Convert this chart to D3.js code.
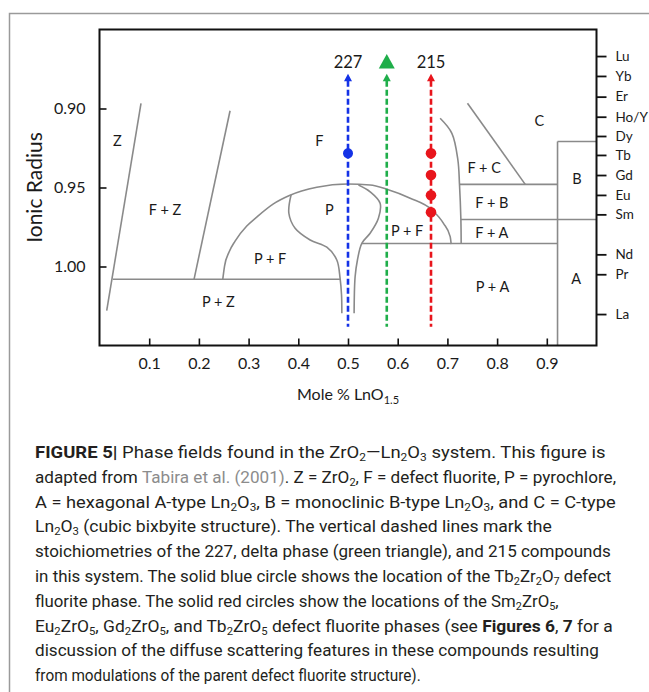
<!DOCTYPE html>
<html><head><meta charset="utf-8">
<script src="https://cdn.jsdelivr.net/npm/d3@7"></script>
<style>html,body{margin:0;padding:0;background:#fff;}svg{display:block;}</style>
</head><body>
<script>
// ---------- data ----------
const xTickValues = [0.1,0.2,0.3,0.4,0.5,0.6,0.7,0.8,0.9];
const yTickValues = [0.90,0.95,1.00];
const rightLabels = ["Lu","Yb","Er","Ho/Y","Dy","Tb","Gd","Eu","Sm","Nd","Pr","La"];
const rightValues = [0.8668,0.8794,0.8925,0.9052,0.9174,0.9294,0.9421,0.9547,0.9670,0.9923,1.0049,1.0301];

const boundaryZF = [[0.0835,0.8967],[0.0145,1.0280]];
const boundaryFZ = [[0.2627,0.9014],[0.1902,1.0081]];
const boundaryPZ = [[0.0266,1.0081],[0.4841,1.0081]];
const dome = [[0.2480,1.0081],[0.2516,0.9997],[0.2607,0.9908],[0.2728,0.9839],[0.2963,0.9744],[0.3165,0.9687],[0.3499,0.9604],[0.3821,0.9551],[0.4372,0.9499],[0.4992,0.9478],[0.5445,0.9484],[0.5782,0.9511],[0.6251,0.9568],[0.6688,0.9642],[0.6921,0.9727],[0.7056,0.9811],[0.7076,0.9858]];
const pLeft = [[0.3855,0.9547],[0.3810,0.9663],[0.3936,0.9758],[0.4238,0.9832],[0.4574,0.9878],[0.4775,0.9959],[0.4841,1.0075],[0.4870,1.0180],[0.4876,1.0296]];
const pRight = [[0.5210,0.9484],[0.5445,0.9527],[0.5646,0.9600],[0.5612,0.9695],[0.5445,0.9790],[0.5278,0.9853],[0.5190,0.9959],[0.5143,1.0065],[0.5123,1.0296]];
const innerPF = [[0.5278,0.9854],[0.9216,0.9854]];
const fBoundary = [[0.6854,0.9062],[0.7090,0.9157],[0.7211,0.9326],[0.7243,0.9478],[0.7271,0.9699],[0.7277,0.9858]];
const lineFCFB = [[0.7243,0.9480],[0.9216,0.9480]];
const lineFBFA = [[0.7271,0.9703],[1.0,0.9703]];
const lineBleft = [[0.9216,0.9209],[0.9216,1.05]];
const lineBtop = [[0.9216,0.9209],[1.0,0.9209]];
const lineC = [[0.7404,0.8967],[0.8566,0.9480]];
const straightLines = [boundaryZF,boundaryFZ,boundaryPZ,innerPF,lineFCFB,lineFBFA,lineBleft,lineBtop,lineC];
const curvedLines = [pLeft,pRight,fBoundary];

const phaseLabels = ["Z","F + Z","P + Z","P + F","P","F","P + F","F + C","F + B","F + A","C","B","A","P + A"];
const phaseX = [0.0358,0.1319,0.2392,0.3432,0.4626,0.4425,0.6190,0.7740,0.7895,0.7895,0.8848,0.9606,0.9592,0.7907];
const phaseY = [0.9204,0.9642,1.0223,0.9948,0.9639,0.9204,0.9777,0.9378,0.9596,0.9786,0.9079,0.9442,1.0075,1.0128];

const stoichNames = ["227","delta","215"];
const stoichX = [0.5,0.578,0.667];
const stoichColors = ["#1432e6","#1fae4a","#e8151c"];
const dashTop = 0.8825, dashBottom = 1.0381;
const blueCircleY = [0.9284];
const redCircleY = [0.9284,0.9421,0.9549,0.9657];

// ---------- layout ----------
const W = 649, H = 692;
const svg = d3.select("body").append("svg").attr("width",W).attr("height",H);
const x = d3.scaleLinear().domain([0,1]).range([99.5,596.5]);
const y = d3.scaleLinear().domain([0.85,1.05]).range([29.5,345.5]);
const font = "Lato, 'Open Sans', sans-serif";

// card border
svg.append("path").attr("d","M9.5,692 L9.5,13.5 L649,13.5").attr("fill","none").attr("stroke","#9a9a9a").attr("stroke-width",1.5);

// phase boundaries
const gB = svg.append("g").attr("fill","none").attr("stroke","#8a8a8a").attr("stroke-width",1.6);
const lineS = d3.line().x(d=>x(d[0])).y(d=>y(d[1]));
const lineC2 = d3.line().x(d=>x(d[0])).y(d=>y(d[1])).curve(d3.curveCatmullRom.alpha(0.5));
const lineM = d3.line().x(d=>x(d[0])).y(d=>y(d[1])).curve(d3.curveMonotoneX);
gB.selectAll("path.s").data(straightLines).join("path").attr("class","s").attr("d",lineS);
gB.selectAll("path.c").data(curvedLines).join("path").attr("class","c").attr("d",lineC2);
gB.append("path").datum(dome).attr("d",lineM);

// axes
const gx = svg.append("g").attr("transform",`translate(0,${y(1.05)})`)
  .call(d3.axisBottom(x).tickValues(xTickValues).tickSize(-7).tickPadding(12).tickFormat(d3.format(".1f")));
const gy = svg.append("g").attr("transform",`translate(${x(0)},0)`)
  .call(d3.axisLeft(y).tickValues(yTickValues).tickSize(-7).tickPadding(14).tickFormat(d3.format(".2f")));
const gr = svg.append("g").attr("transform",`translate(${x(1)},0)`)
  .call(d3.axisRight(y).tickValues(rightValues).tickSize(10).tickPadding(9).tickFormat((d,i)=>rightLabels[i]));
[gx,gy,gr].forEach(g=>{
  g.select(".domain").remove();
  g.selectAll(".tick line").attr("stroke","#111").attr("stroke-width",1.6);
  g.selectAll("text").attr("font-family",font).attr("fill","#1a1a1a");
});
gx.selectAll("text").attr("font-size",16);
gy.selectAll("text").attr("font-size",16);
gr.selectAll("text").attr("font-size",13.5);
gr.selectAll(".tick line").attr("stroke-width",1.8);

// frame
svg.append("rect").attr("x",x(0)).attr("y",y(0.85)).attr("width",x(1)-x(0)).attr("height",y(1.05)-y(0.85))
  .attr("fill","none").attr("stroke","#111").attr("stroke-width",2);

// phase labels
svg.append("g").selectAll("text").data(phaseLabels).join("text")
  .attr("x",(d,i)=>x(phaseX[i])).attr("y",(d,i)=>y(phaseY[i])).attr("dy","0.36em")
  .attr("text-anchor","middle").attr("font-family",font).attr("font-size",14.5).attr("fill","#1a1a1a").text(d=>d);

// dashed stoichiometry lines
stoichX.forEach((sx,i)=>{
  svg.append("line").attr("x1",x(sx)).attr("x2",x(sx)).attr("y1",y(dashTop)).attr("y2",y(dashBottom))
    .attr("stroke",stoichColors[i]).attr("stroke-width",2.6).attr("stroke-dasharray","6,3");
  const tx = x(sx), ty = y(dashTop)-7;
  svg.append("path").attr("d",`M${tx},${ty} L${tx-4},${ty+7.5} L${tx+4},${ty+7.5} Z`).attr("fill",stoichColors[i]);
});
// top labels
svg.append("text").attr("x",x(stoichX[0])).attr("y",67.5).attr("text-anchor","middle")
  .attr("font-family",font).attr("font-size",16.5).attr("fill","#1a1a1a").text(stoichNames[0]);
svg.append("text").attr("x",x(stoichX[2])).attr("y",67.5).attr("text-anchor","middle")
  .attr("font-family",font).attr("font-size",16.5).attr("fill","#1a1a1a").text(stoichNames[2]);
{
  const tx = x(stoichX[1]);
  svg.append("path").attr("d",`M${tx},${54} L${tx-8},${68.5} L${tx+8},${68.5} Z`).attr("fill",stoichColors[1]);
}

// circles
svg.append("g").selectAll("circle").data(blueCircleY).join("circle")
  .attr("cx",x(stoichX[0])).attr("cy",d=>y(d)).attr("r",5).attr("fill",stoichColors[0]);
svg.append("g").selectAll("circle").data(redCircleY).join("circle")
  .attr("cx",x(stoichX[2])).attr("cy",d=>y(d)).attr("r",5.3).attr("fill",stoichColors[2]);

// axis titles
const xt = svg.append("text").attr("x",(x(0)+x(1))/2).attr("y",400).attr("text-anchor","middle")
  .attr("font-family",font).attr("font-size",16).attr("fill","#1a1a1a");
xt.append("tspan").text("Mole % LnO");
xt.append("tspan").attr("font-size",11).attr("dy",4).text("1.5");
svg.append("text").attr("transform",`translate(42,${(y(0.85)+y(1.05))/2}) rotate(-90)`).attr("text-anchor","middle")
  .attr("font-family",font).attr("font-size",21).attr("fill","#1a1a1a").text("Ionic Radius");

// caption
const capFont = "'Liberation Sans Narrow','Roboto','Liberation Sans',sans-serif";
const capLines = [
  [["b","FIGURE 5"],["b","|"],["n"," Phase fields found in the ZrO"],["s","2"],["n","—Ln"],["s","2"],["n","O"],["s","3"],["n"," system. This figure is"]],
  [["n","adapted from "],["g","Tabira et al. (2001)"],["n",". Z = ZrO"],["s","2"],["n",", F = defect fluorite, P = pyrochlore,"]],
  [["n","A = hexagonal A-type Ln"],["s","2"],["n","O"],["s","3"],["n",", B = monoclinic B-type Ln"],["s","2"],["n","O"],["s","3"],["n",", and C = C-type"]],
  [["n","Ln"],["s","2"],["n","O"],["s","3"],["n"," (cubic bixbyite structure). The vertical dashed lines mark the"]],
  [["n","stoichiometries of the 227, delta phase (green triangle), and 215 compounds"]],
  [["n","in this system. The solid blue circle shows the location of the Tb"],["s","2"],["n","Zr"],["s","2"],["n","O"],["s","7"],["n"," defect"]],
  [["n","fluorite phase. The solid red circles show the locations of the Sm"],["s","2"],["n","ZrO"],["s","5"],["n",","]],
  [["n","Eu"],["s","2"],["n","ZrO"],["s","5"],["n",", Gd"],["s","2"],["n","ZrO"],["s","5"],["n",", and Tb"],["s","2"],["n","ZrO"],["s","5"],["n"," defect fluorite phases (see "],["b","Figures 6"],["n",", "],["b","7"],["n"," for a"]],
  [["n","discussion of the diffuse scattering features in these compounds resulting"]],
  [["n","from modulations of the parent defect fluorite structure)."]]
];
const capWidths = [571,581,581,517,576,577,524,578,564,386];
const capX = 35, capY0 = 458, capDY = 24.8;
capLines.forEach((parts,li)=>{
  const t = svg.append("text").attr("x",0).attr("y",0).attr("font-family",capFont)
    .attr("font-size",17).attr("fill","#231f20");
  let shift = 0;
  parts.forEach(([k,s])=>{
    const sp = t.append("tspan").text(s);
    if(k==="b") sp.attr("font-weight","bold");
    if(k==="g") sp.attr("fill","#8c8c8c");
    if(k==="s"){ sp.attr("font-size",11).attr("dy",3-shift); shift=3; }
    else { sp.attr("dy",-shift); shift=0; }
  });
  const natural = t.node().getComputedTextLength();
  const sx = capWidths[li]/natural;
  t.attr("transform",`translate(${capX},${capY0+li*capDY}) scale(${sx},1)`);
});
</script>
</body></html>
